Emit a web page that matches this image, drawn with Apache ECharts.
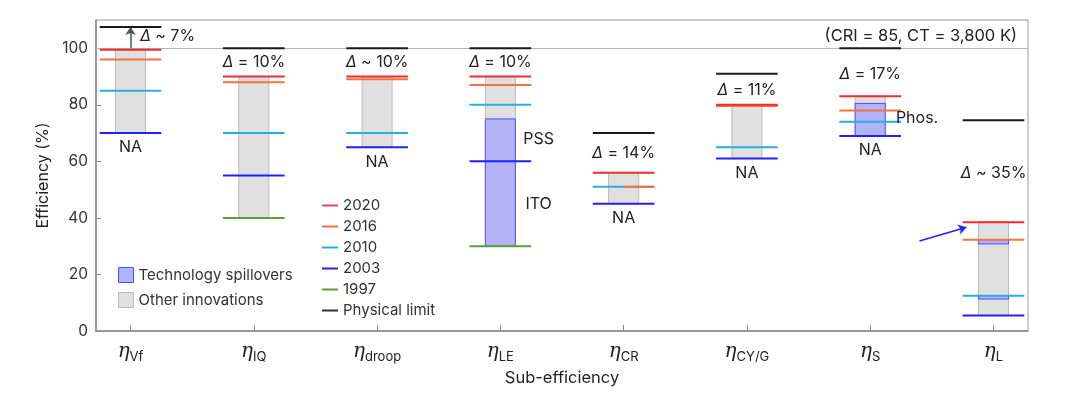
<!DOCTYPE html>
<html>
<head>
<meta charset="utf-8">
<script src="https://cdn.jsdelivr.net/npm/echarts@6/dist/echarts.min.js"></script>
<style>html,body{margin:0;padding:0;background:#fff}#c{width:1080px;height:393px}</style>
</head>
<body>
<div id="c"></div>
<script>
// ---------- data ----------
const categories = ['Vf', 'IQ', 'droop', 'LE', 'CR', 'CY/G', 'S', 'L'];
const y2020 = [99.5, 90, 90, 90, 56, 80, 83, 38.5];
const y2016 = [96, 88, 89, 87, 51, 79.6, 78, 32.3];
const y2010 = [85, 70, 70, 80, 51, 65, 74, 12.5];
const y2003 = [70, 55, 65, 60, 45, 61, 69, 5.5];
const y1997 = [null, 40, null, 30, null, null, null, null];
const physicalLimit = [107.5, 100, 100, 100, 70, 91, 100, 74.5];
// [category, low, high]
const otherInnovations = [[0, 70, 99.5], [1, 40, 90], [2, 65, 90], [3, 75, 90], [4, 45, 56], [5, 61, 80], [6, 69, 83], [7, 5.5, 38.5]];
const spillovers = [[3, 30, 75], [6, 69, 80.5], [7, 30.8, 32.3], [7, 11.3, 12.5]];
const yTicks = [0, 20, 40, 60, 80, 100];
// annotations: [text, x, y]
const deltaLabels = [['~ 7%', 0.30, 104.3], ['= 10%', 1, 95.2], ['~ 10%', 2, 95.2], ['= 10%', 3, 95.2], ['= 14%', 4, 63], ['= 11%', 5, 85.2], ['= 17%', 6, 91], ['~ 35%', 7, 55.8]];
const plainLabels = [['NA', 0, 65], ['NA', 2, 59.8], ['NA', 4, 40], ['NA', 5, 55.8], ['NA', 6, 64], ['PSS', 3.31, 68], ['ITO', 3.31, 44.7], ['Phos.', 6.38, 75.2]];
const arrowVf = [[0, 100], [0, 107.5]];
const arrowL = [[6.4, 31.8], [6.78, 36.7]];

// ---------- helpers ----------
const HALF_LINE = 0.25, HALF_BAR = 0.122;
const FONT = 'Inter, "Noto Sans", sans-serif';
function lineSeries(name, values, color, z) {
  const data = [];
  values.forEach((v, i) => { if (v != null) data.push([i, v]); });
  return {
    type: 'custom', name, color, z: z || 3,
    itemStyle: { color },
    encode: { x: 0, y: 1 },
    data,
    renderItem(params, api) {
      const x = api.value(0), y = api.value(1);
      let x0 = x - HALF_LINE;
      // 2016 line that coincides with the 2010 line is drawn on the right half only
      if (name === '2016' && y2010[x] === y) x0 = x;
      const p1 = api.coord([x0, y]), p2 = api.coord([x + HALF_LINE, y]);
      return { type: 'line', shape: { x1: p1[0], y1: p1[1], x2: p2[0], y2: p2[1] }, style: { stroke: color, lineWidth: 2 } };
    }
  };
}
function barSeries(name, data, fill, border) {
  return {
    type: 'custom', name, color: fill, z: 2,
    itemStyle: { color: fill, borderColor: border },
    encode: { x: 0, y: [1, 2] },
    data,
    renderItem(params, api) {
      const x = api.value(0);
      const a = api.coord([x - HALF_BAR, api.value(2)]);
      const b = api.coord([x + HALF_BAR, api.value(1)]);
      return { type: 'rect', shape: { x: a[0], y: a[1], width: b[0] - a[0], height: b[1] - a[1] }, style: { fill, stroke: border, lineWidth: 1 } };
    }
  };
}
function textSeries(items, rich) {
  return {
    type: 'custom', z: 10, silent: true,
    encode: { x: 1, y: 2 },
    data: items,
    renderItem(params, api) {
      const it = items[params.dataIndex];
      const p = api.coord([it[1], it[2]]);
      return {
        type: 'text', x: p[0], y: p[1],
        style: { text: rich ? '{d|Δ} ' + it[0] : it[0], align: 'center', verticalAlign: 'middle', fill: '#222', font: '16px ' + FONT,
          rich: { d: { fontStyle: 'italic', fontSize: 16, fontFamily: FONT, fill: '#222' } } }
      };
    }
  };
}

const chart = echarts.init(document.getElementById('c'));
chart.setOption({
  animation: false,
  textStyle: { fontFamily: FONT },
  title: { text: '(CRI = 85, CT = 3,800 K)', right: 58, top: 23, textStyle: { fontSize: 16.5, fontWeight: 'normal', color: '#222', fontFamily: FONT } },
  grid: { left: 96, right: 52, top: 20, bottom: 62, show: true, borderColor: '#9a9a9a', borderWidth: 1 },
  legend: [
    { left: 113, top: 262, orient: 'vertical', itemWidth: 15, itemHeight: 15, itemGap: 9, selectedMode: false,
      textStyle: { fontSize: 15, color: '#333', fontFamily: FONT },
      data: [
        { name: 'Technology spillovers', icon: 'rect', itemStyle: { color: '#b3b3fa', borderColor: '#4d4dff', borderWidth: 1 } },
        { name: 'Other innovations', icon: 'rect', itemStyle: { color: '#e0e0e0', borderColor: '#bbbbbb', borderWidth: 1 } }
      ] },
    { left: 317, top: 193, orient: 'vertical', itemWidth: 16, itemHeight: 2, itemGap: 6, selectedMode: false,
      textStyle: { fontSize: 15, color: '#333', lineHeight: 14, fontFamily: FONT },
      data: [
        { name: '2020', icon: 'rect', itemStyle: { color: '#dc4070' } },
        { name: '2016', icon: 'rect', itemStyle: { color: '#f2733f' } },
        { name: '2010', icon: 'rect', itemStyle: { color: '#26aee0' } },
        { name: '2003', icon: 'rect', itemStyle: { color: '#2020ff' } },
        { name: '1997', icon: 'rect', itemStyle: { color: '#5c9e34' } },
        { name: 'Physical limit', icon: 'rect', itemStyle: { color: '#333' } }
      ] }
  ],
  xAxis: {
    type: 'value', min: -0.28, max: 7.28,
    name: 'Sub-efficiency', nameLocation: 'middle', nameGap: 39,
    nameTextStyle: { fontSize: 16.5, color: '#222', fontFamily: FONT },
    axisLine: { onZero: false, lineStyle: { color: '#888', width: 1.5 } },
    axisTick: { inside: true, length: 6, lineStyle: { color: '#888' }, customValues: categories.map((c, i) => i) },
    splitLine: { show: false },
    axisLabel: {
      customValues: categories.map((c, i) => i), margin: 8,
      formatter: v => '{e|η}{s|' + categories[Math.round(v)] + '}',
      rich: {
        e: { fontFamily: '"DejaVu Serif", serif', fontStyle: 'italic', fontSize: 20, color: '#222' },
        s: { fontFamily: FONT, fontSize: 13, color: '#222', verticalAlign: 'bottom', padding: [12, 0, 0, 0] }
      }
    }
  },
  yAxis: {
    type: 'value', min: 0, max: 110,
    name: 'Efficiency (%)', nameLocation: 'middle', nameGap: 45,
    nameTextStyle: { fontSize: 16, color: '#222', fontFamily: FONT },
    axisLine: { show: true, onZero: false, lineStyle: { color: '#888', width: 1.5 } },
    axisTick: { show: true, inside: true, length: 5, lineStyle: { color: '#888' }, customValues: yTicks },
    axisLabel: { customValues: yTicks, fontSize: 15.5, color: '#333', margin: 8 },
    splitLine: { show: false }
  },
  series: [
    Object.assign(barSeries('Other innovations', otherInnovations, '#e0e0e0', '#bbbbbb'), {
      markLine: { silent: true, z: 1, symbol: 'none', label: { show: false }, lineStyle: { color: '#b5b5b5', width: 1, type: 'solid' }, data: [{ yAxis: 100 }] }
    }),
    barSeries('Technology spillovers', spillovers, '#b3b3fa', '#4d4dff'),
    lineSeries('1997', y1997, '#5c9e34'),
    lineSeries('2003', y2003, '#2020ff'),
    lineSeries('2010', y2010, '#26aee0'),
    lineSeries('2016', y2016, '#f2733f'),
    lineSeries('2020', y2020, '#f52a2a'),
    lineSeries('Physical limit', physicalLimit, '#1a1a1a', 6),
    { type: 'lines', coordinateSystem: 'cartesian2d', z: 4, silent: true, symbol: ['none', 'arrow'], symbolSize: 8,
      lineStyle: { color: '#4a5468', width: 1.5, opacity: 1 }, data: [{ coords: arrowVf }] },
    { type: 'lines', coordinateSystem: 'cartesian2d', z: 4, silent: true, symbol: ['none', 'arrow'], symbolSize: 8,
      lineStyle: { color: '#2020ff', width: 1.5, opacity: 1 }, data: [{ coords: arrowL }] },
    textSeries(deltaLabels, true),
    textSeries(plainLabels, false)
  ]
});
</script>
</body>
</html>
